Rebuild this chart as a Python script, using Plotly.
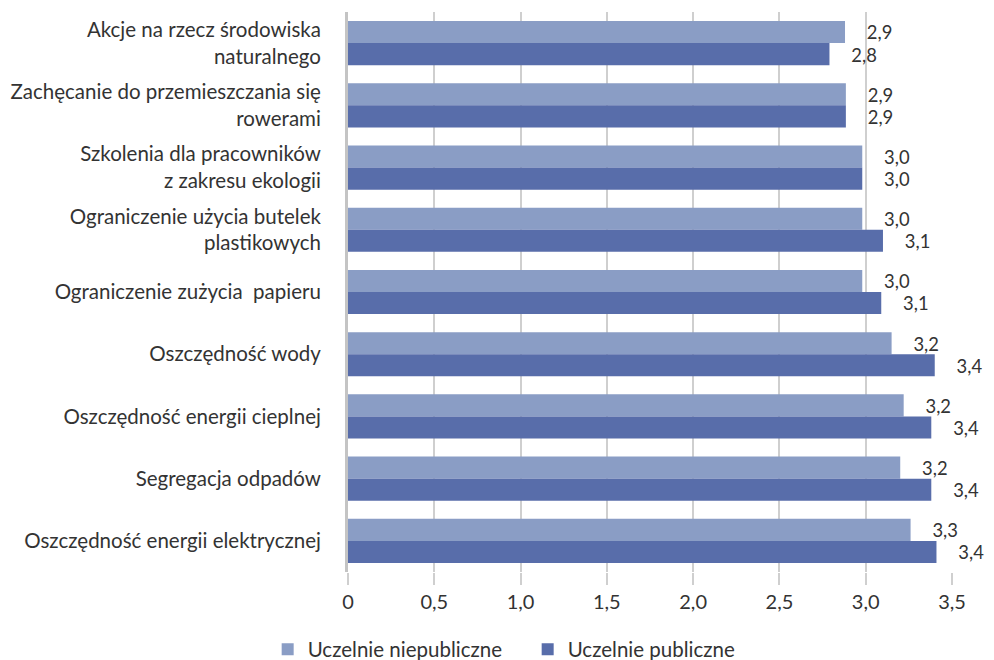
import plotly.graph_objects as go

categories = [
    "Akcje na rzecz środowiska<br>naturalnego",
    "Zachęcanie do przemieszczania się<br>rowerami",
    "Szkolenia dla pracowników<br>z zakresu ekologii",
    "Ograniczenie użycia butelek<br>plastikowych",
    "Ograniczenie zużycia  papieru",
    "Oszczędność wody",
    "Oszczędność energii cieplnej",
    "Segregacja odpadów",
    "Oszczędność energii elektrycznej",
]

niepubliczne = [2.88, 2.885, 2.98, 2.98, 2.98, 3.15, 3.22, 3.20, 3.26]
niepubliczne_labels = ["2,9", "2,9", "3,0", "3,0", "3,0", "3,2", "3,2", "3,2", "3,3"]

publiczne = [2.79, 2.885, 2.98, 3.10, 3.09, 3.40, 3.38, 3.38, 3.41]
publiczne_labels = ["2,8", "2,9", "3,0", "3,1", "3,1", "3,4", "3,4", "3,4", "3,4"]

tick_vals = [0, 0.5, 1.0, 1.5, 2.0, 2.5, 3.0, 3.5]
tick_text = ["0", "0,5", "1,0", "1,5", "2,0", "2,5", "3,0", "3,5"]

fig = go.Figure()
fig.add_trace(go.Bar(
    y=categories, x=niepubliczne, orientation="h",
    name="Uczelnie niepubliczne", marker_color="#8A9DC5", marker_line_width=0,
    text=niepubliczne_labels, texttemplate="    %{text}", textposition="outside",
    textfont=dict(size=20, color="#333333"), cliponaxis=False,
))
fig.add_trace(go.Bar(
    y=categories, x=publiczne, orientation="h",
    name="Uczelnie publiczne", marker_color="#586DAA", marker_line_width=0,
    text=publiczne_labels, texttemplate="    %{text}", textposition="outside",
    textfont=dict(size=20, color="#333333"), cliponaxis=False,
))

fig.update_layout(
    width=994, height=660,
    barmode="group", bargap=0.29, bargroupgap=0,
    plot_bgcolor="white", paper_bgcolor="white",
    font=dict(family="Lato", size=20.5, color="#333333"),
    margin=dict(l=340, r=50, t=4, b=96, autoexpand=False),
    legend=dict(orientation="h", x=-0.133, xanchor="left", y=-0.1025, yanchor="top",
                font=dict(size=20.5), itemwidth=30, entrywidth=215,
                tracegroupgap=0),
    uniformtext=dict(mode=False),
)
fig.update_xaxes(
    range=[0, 3.5], tickvals=tick_vals, ticktext=tick_text,
    showgrid=True, gridcolor="#CFCFCF", gridwidth=1.5,
    ticks="outside", ticklen=12, tickcolor="#CFCFCF", tickwidth=1.5,
    zeroline=False, showline=False, tickfont=dict(size=20),
)
fig.update_yaxes(
    autorange="reversed", showgrid=False, ticks="", ticklabelstandoff=20,
    showline=True, linecolor="#C4C4C4", linewidth=3,
)

fig.write_html("out.html")
